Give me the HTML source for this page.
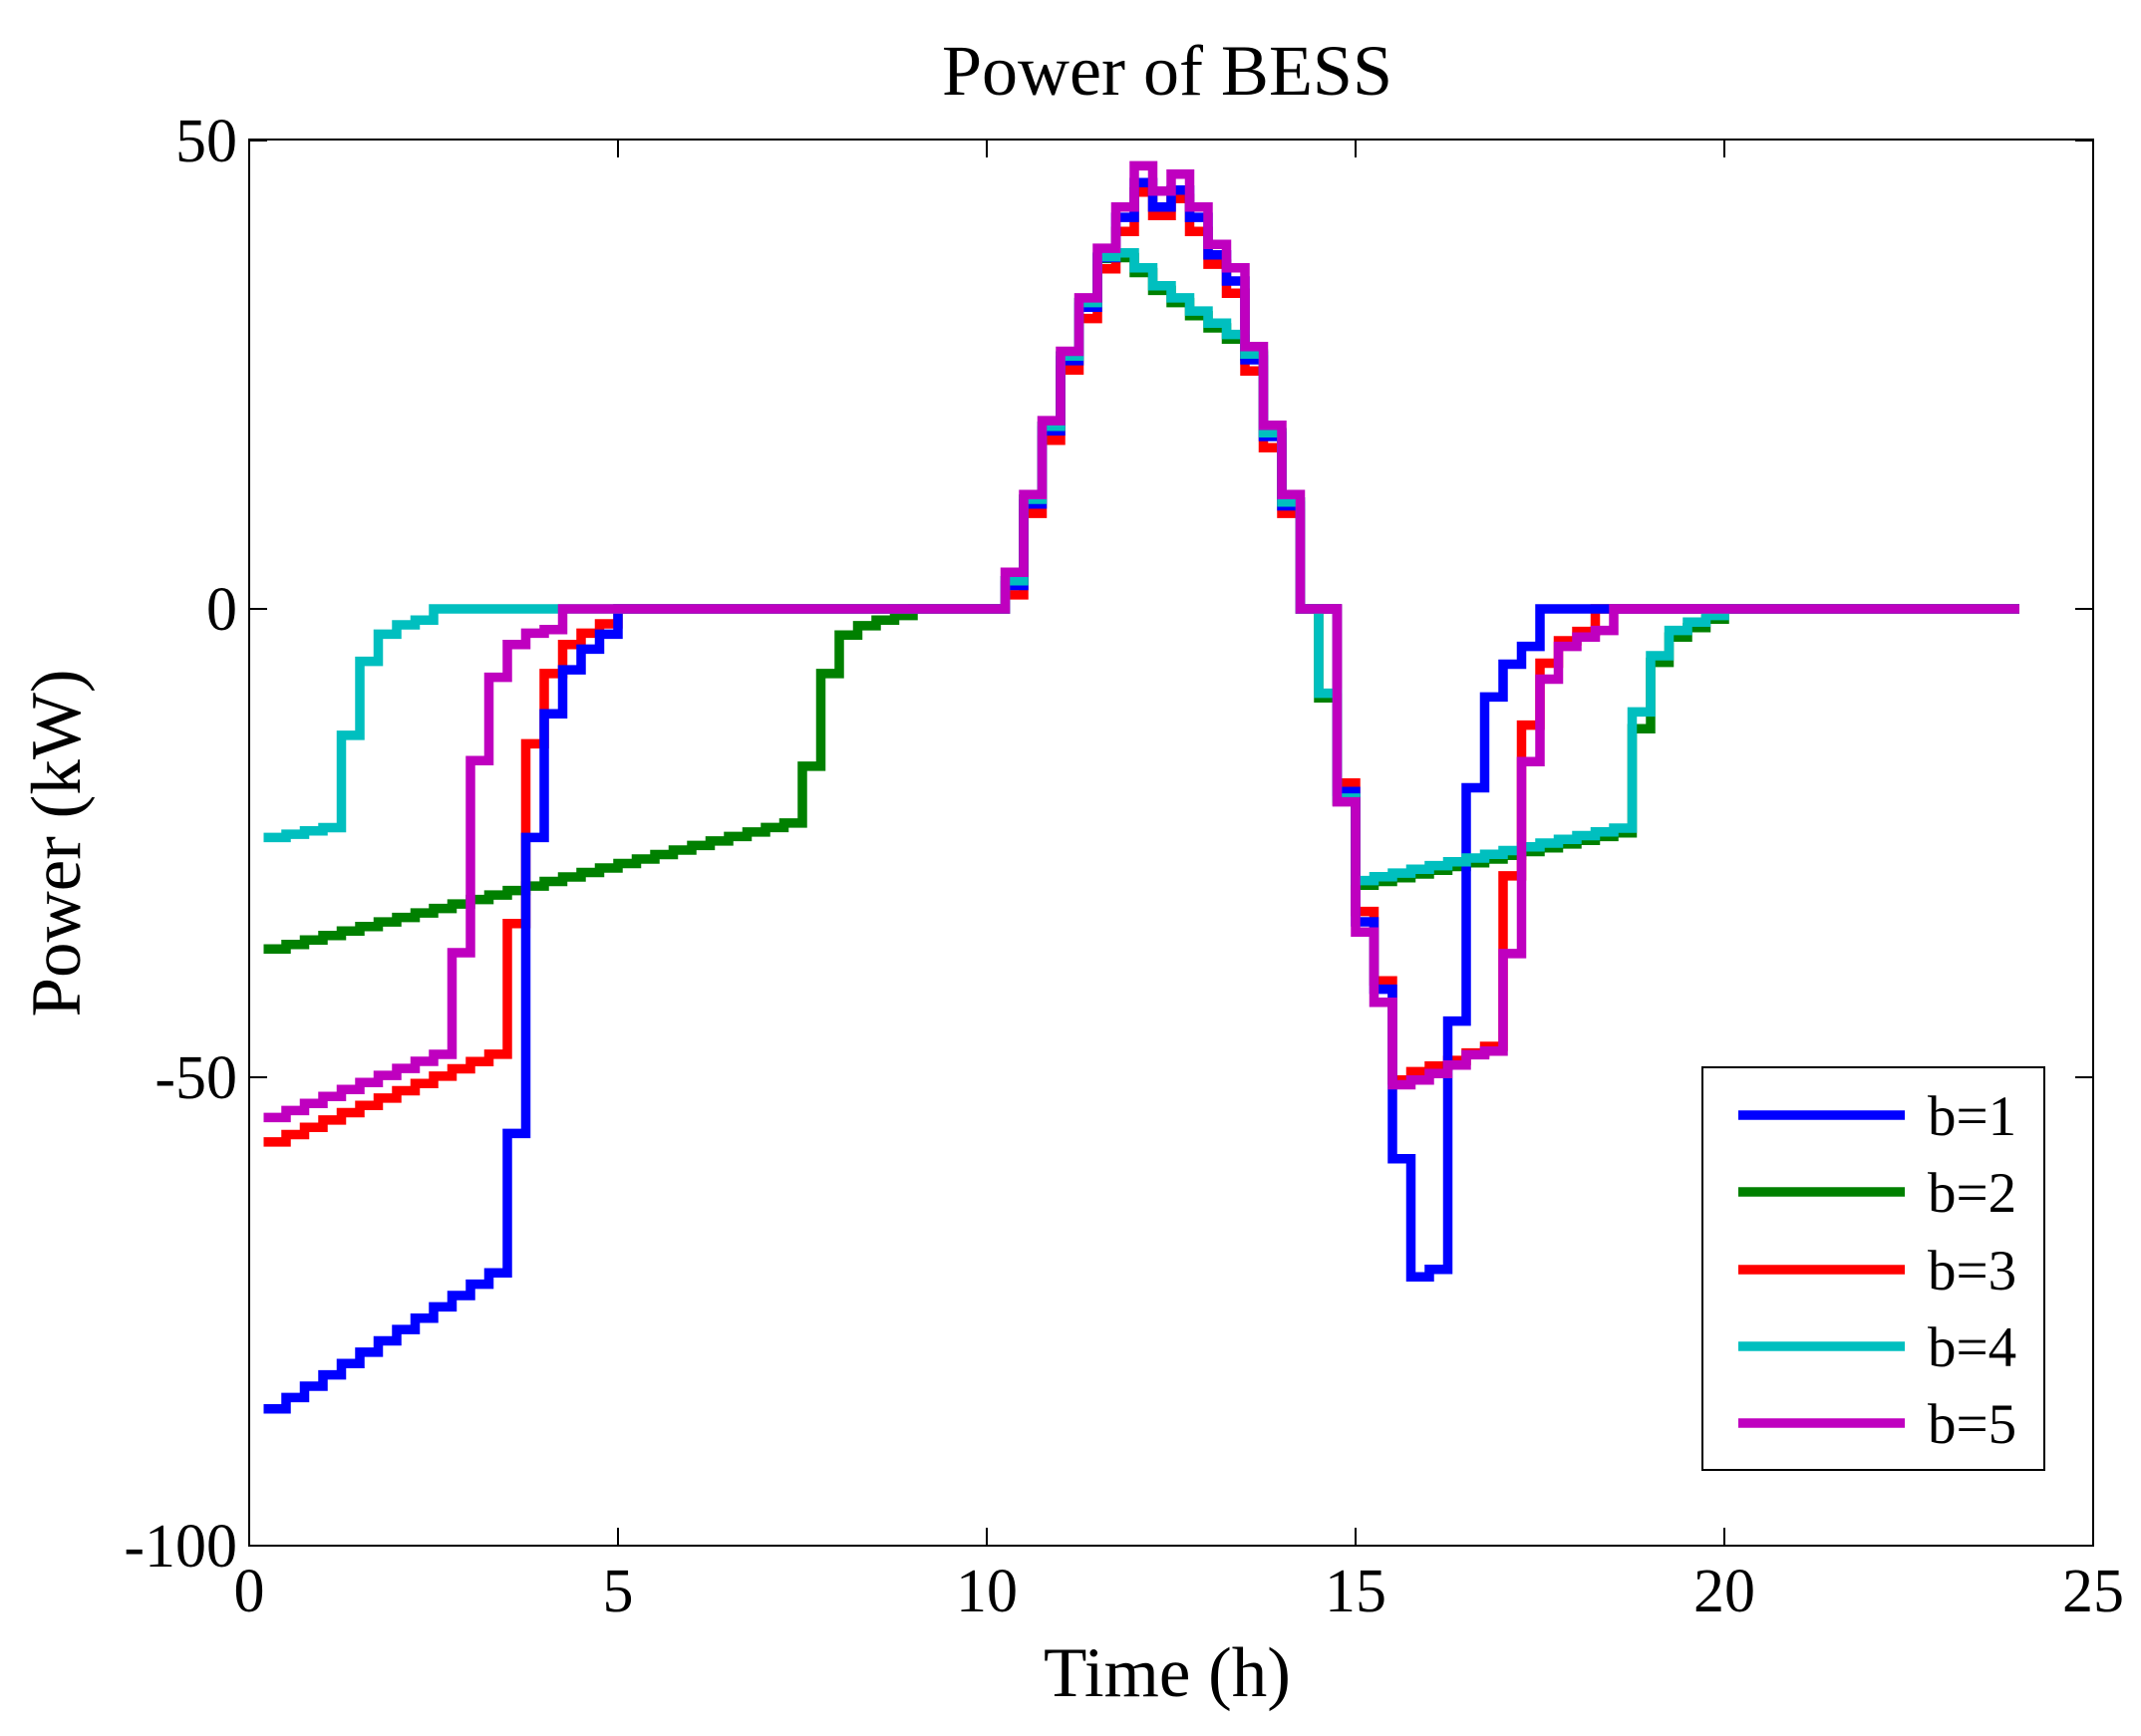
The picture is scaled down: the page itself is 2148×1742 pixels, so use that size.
<!DOCTYPE html>
<html><head><meta charset="utf-8"><style>
html,body{margin:0;padding:0;background:#fff;}
svg{display:block;}
text{font-family:"Liberation Serif",serif;fill:#000;}
</style></head><body>
<svg id="s" width="2148" height="1742" viewBox="0 0 2148 1742" xmlns="http://www.w3.org/2000/svg">
<rect width="2148" height="1742" fill="#fff"/>
<text x="1171" y="95" font-size="72" text-anchor="middle">Power of BESS</text>
<text x="1171" y="1702" font-size="71" text-anchor="middle">Time (h)</text>
<text transform="translate(80,846) rotate(-90)" font-size="71" text-anchor="middle">Power (kW)</text>
<g font-size="62" text-anchor="middle">
<text x="250" y="1617">0</text><text x="620" y="1617">5</text><text x="990" y="1617">10</text>
<text x="1360" y="1617">15</text><text x="1730" y="1617">20</text><text x="2100" y="1617">25</text>
</g>
<g font-size="62" text-anchor="end">
<text x="238" y="162">50</text><text x="238" y="632">0</text><text x="238" y="1102">-50</text><text x="238" y="1572">-100</text>
</g>
<rect x="250" y="140" width="1850" height="1411" fill="none" stroke="#000" stroke-width="2"/>
<g id="ticks" stroke="#000" stroke-width="2"></g>
<g id="series" fill="none" stroke-width="9.5" stroke-linejoin="miter"></g>
<g>
<rect x="1708" y="1071" width="343" height="404" fill="#fff" stroke="#000" stroke-width="2"/>
<g stroke-width="9.5">
<line x1="1744" y1="1119" x2="1911" y2="1119" stroke="#0000ff"/>
<line x1="1744" y1="1196" x2="1911" y2="1196" stroke="#008000"/>
<line x1="1744" y1="1274" x2="1911" y2="1274" stroke="#ff0000"/>
<line x1="1744" y1="1351" x2="1911" y2="1351" stroke="#00bfbf"/>
<line x1="1744" y1="1428" x2="1911" y2="1428" stroke="#bf00bf"/>
</g>
<g font-size="57">
<text x="1934" y="1139">b=1</text><text x="1934" y="1216">b=2</text><text x="1934" y="1294">b=3</text>
<text x="1934" y="1371">b=4</text><text x="1934" y="1448">b=5</text>
</g>
</g>
</svg>
<script>
(function(){
var X=function(t){return 250+74*t;}, Y=function(v){return 611-9.4*v;};
function arr(){var a=[];for(var k=0;k<=95;k++)a.push(0);return a;}
function set(a,start,vals){for(var i=0;i<vals.length;i++)a[start+i]=vals[i];}
var B=arr(),G=arr(),R=arr(),C=arr(),M=arr(),k;
for(k=1;k<=13;k++)B[k]=-85.4+1.21*(k-1);
set(B,14,[-56,-24.4,-11.2,-6.5,-4.3,-2.7]);
for(k=1;k<=13;k++)R[k]=-56.9+0.78*(k-1);
set(R,14,[-33.6,-14.4,-6.9,-3.8,-2.6,-1.6]);
for(k=1;k<=10;k++)M[k]=-54.3+0.75*(k-1);
set(M,11,[-36.7,-16.2,-7.3,-3.8,-2.6,-2.2]);
for(k=1;k<=4;k++)C[k]=-24.4+0.35*(k-1);
set(C,5,[-13.5,-5.6,-2.7,-1.7,-1.2]);
for(k=1;k<=29;k++)G[k]=-36.3+0.48*(k-1);
set(G,30,[-16.8,-6.9,-2.8,-1.8,-1.2,-0.7]);
set(M,41,[3.9,12.2,20.1,27.5,33.2,38.5,42.9,47.3,44.6,46.4,42.9,38.9,36.4,28.0,19.6,12.2]);
set(R,41,[1.5,10.2,18.0,25.5,31.0,36.3,40.3,44.5,42.0,43.8,40.3,36.8,33.7,25.4,17.2,10.2]);
set(B,41,[2.5,11.2,19.0,26.5,32.2,37.5,41.8,45.5,42.9,44.7,41.8,37.8,35.0,26.6,18.4,11.0]);
set(C,41,[3.0,11.7,19.5,27.0,32.7,37.6,38.0,36.4,34.5,33.2,31.8,30.5,29.3,27.2,18.8,11.4,0,-9.0]);
set(G,41,[3.0,11.7,19.5,27.0,32.7,37.4,37.5,35.9,34.0,32.7,31.3,30.0,28.8,27.0,18.8,11.4,0,-9.5]);
set(M,59,[-20.6,-34.5,-42,-50.8,-50.3,-49.6,-48.7,-47.6,-47.2,-36.8,-16.3,-7.5,-4.0,-3.0,-2.3]);
set(R,59,[-18.6,-32.3,-39.7,-50.3,-49.4,-48.8,-48.2,-47.4,-46.7,-28.5,-12.4,-5.8,-3.4,-2.4]);
set(B,59,[-19.5,-33.4,-40.6,-58.7,-71.3,-70.5,-44,-19.1,-9.4,-5.9,-4.0]);
C[59]=-20.2;G[59]=-20.5;
for(k=60;k<=74;k++){C[k]=-29+0.4*(k-60);G[k]=C[k]-0.5;}
set(C,75,[-11,-5.0,-2.3,-1.4,-0.7]);
set(G,75,[-12.8,-5.7,-3,-2,-1.1]);
function path(a){var d="M"+(X(0.25)-4)+","+Y(a[1]);
 for(var k=1;k<=95;k++){d+=" H"+X((k+1)*0.25).toFixed(1);if(k<95)d+=" V"+Y(a[k+1]).toFixed(1);}
 return d;}
var ns="http://www.w3.org/2000/svg",g=document.getElementById("series");
[[G,"#008000"],[R,"#ff0000"],[B,"#0000ff"],[C,"#00bfbf"],[M,"#bf00bf"]].forEach(function(s){
 var p=document.createElementNS(ns,"path");p.setAttribute("d",path(s[0]));p.setAttribute("stroke",s[1]);g.appendChild(p);});
var tg=document.getElementById("ticks");
function ln(x1,y1,x2,y2){var l=document.createElementNS(ns,"line");l.setAttribute("x1",x1);l.setAttribute("y1",y1);l.setAttribute("x2",x2);l.setAttribute("y2",y2);tg.appendChild(l);}
for(var t=0;t<=25;t+=5){ln(X(t),140,X(t),158);ln(X(t),1551,X(t),1533);}
[50,0,-50,-100].forEach(function(v){ln(250,Y(v),268,Y(v));ln(2100,Y(v),2082,Y(v));});
})();
</script>
</body></html>
